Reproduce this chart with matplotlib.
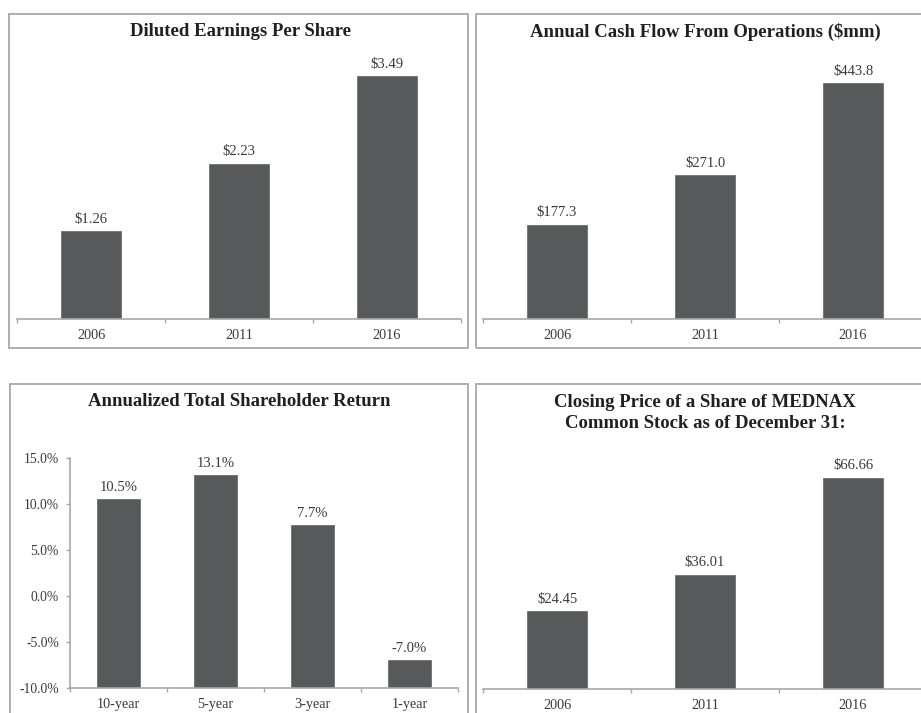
import matplotlib
matplotlib.use("Agg")
import matplotlib.pyplot as plt
from matplotlib.patches import Rectangle

plt.rcParams['font.family'] = ['Liberation Serif', 'DejaVu Serif']

# ---- data ----
years = ["2006", "2011", "2016"]
eps_values = [1.26, 2.23, 3.49]
eps_labels = ["$1.26", "$2.23", "$3.49"]
cash_values = [177.3, 271.0, 443.8]
cash_labels = ["$177.3", "$271.0", "$443.8"]
tsr_periods = ["10-year", "5-year", "3-year", "1-year"]
tsr_values = [10.5, 13.1, 7.7, -7.0]
tsr_labels = ["10.5%", "13.1%", "7.7%", "-7.0%"]
tsr_ticks = [-10, -5, 0, 5, 10, 15]
tsr_ticklabels = ["-10.0%", "-5.0%", "0.0%", "5.0%", "10.0%", "15.0%"]
price_values = [24.45, 36.01, 66.66]
price_labels = ["$24.45", "$36.01", "$66.66"]

titles = ["Diluted Earnings Per Share",
          "Annual Cash Flow From Operations ($mm)",
          "Annualized Total Shareholder Return",
          "Closing Price of a Share of MEDNAX\nCommon Stock as of December 31:"]

W, H = 921, 713
fig = plt.figure(figsize=(W / 100, H / 100), dpi=100)

BAR = '#58595b'
TXT = '#3a3a3a'
TITLE = '#231f20'
LINE = '#a8a8a8'

def px_rect(x0, y0, x1, y1):
    # pixel box (top-left origin) -> figure fraction [l, b, w, h]
    return [x0 / W, 1 - y1 / H, (x1 - x0) / W, (y1 - y0) / H]

# panel borders
for (x0, y0, x1, y1) in [(9, 14, 468, 348), (476, 14, 930, 348),
                         (10, 384, 468, 730), (476, 384, 930, 730)]:
    l, b, w, h = px_rect(x0, y0, x1, y1)
    fig.patches.append(Rectangle((l, b), w, h, transform=fig.transFigure,
                                 fill=False, edgecolor=LINE, lw=1.3))

def style_cat_axis(ax, labels, left_spine=False):
    n = len(labels)
    ax.set_xlim(-0.5, n - 0.5)
    for s in ['top', 'right']:
        ax.spines[s].set_visible(False)
    ax.spines['left'].set_visible(left_spine)
    ax.spines['bottom'].set_color(LINE)
    ax.spines['bottom'].set_linewidth(1.2)
    ax.spines['left'].set_color(LINE)
    ax.spines['left'].set_linewidth(1.2)
    ax.set_xticks(range(n))
    ax.set_xticklabels(labels, fontsize=10.3, color=TXT)
    ax.tick_params(axis='x', which='major', length=0, pad=7)
    ax.set_xticks([i - 0.5 for i in range(n + 1)], minor=True)
    ax.tick_params(axis='x', which='minor', length=3, color=LINE, width=1)
    ax.set_facecolor('none')

def bar_panel(rect, values, labels, ymax, cats, width=0.4):
    ax = fig.add_axes(px_rect(*rect))
    xs = list(range(len(values)))
    ax.bar(xs, values, width=width, color=BAR, edgecolor='#6e6f71', linewidth=0.6)
    ax.set_ylim(0, ymax)
    ax.set_yticks([])
    style_cat_axis(ax, cats)
    for x, v, t in zip(xs, values, labels):
        ax.annotate(t, (x, v), xytext=(0, 4), textcoords='offset points',
                    ha='center', va='bottom', fontsize=10.5, color=TXT)
    return ax

# Panel 1: EPS
bar_panel((17, 41, 461, 319), eps_values, eps_labels, 4.0, years)
# Panel 2: cash flow
bar_panel((483, 41, 927, 319), cash_values, cash_labels, 278 / 0.531, years)
# Panel 4: closing price
bar_panel((483, 445, 927, 689), price_values, price_labels, 244 / 3.17, years)

# Panel 3: TSR, bars from -10 baseline
ax3 = fig.add_axes(px_rect(70, 458, 458, 688))
base = tsr_ticks[0]
xs = list(range(len(tsr_values)))
ax3.bar(xs, [v - base for v in tsr_values], bottom=base, width=0.45,
        color=BAR, edgecolor='#6e6f71', linewidth=0.6)
ax3.set_ylim(tsr_ticks[0], tsr_ticks[-1])
style_cat_axis(ax3, tsr_periods, left_spine=True)
ax3.set_yticks(tsr_ticks)
ax3.set_yticklabels(tsr_ticklabels, fontsize=9.8, color=TXT)
ax3.tick_params(axis='y', length=3, color=LINE, width=1, pad=5)
for x, v, t in zip(xs, tsr_values, tsr_labels):
    ax3.annotate(t, (x, v), xytext=(0, 4), textcoords='offset points',
                 ha='center', va='bottom', fontsize=10.5, color=TXT)

# Titles
TFS = 13.5
fig.text(240 / W, 1 - 32 / H, titles[0], ha='center', va='center',
         fontsize=TFS, fontweight='bold', color=TITLE)
fig.text(705 / W, 1 - 32 / H, titles[1], ha='center', va='center',
         fontsize=TFS, fontweight='bold', color=TITLE)
fig.text(239 / W, 1 - 401 / H, titles[2], ha='center', va='center',
         fontsize=TFS, fontweight='bold', color=TITLE)
fig.text(705 / W, 1 - 413 / H, titles[3], ha='center', va='center',
         fontsize=TFS, fontweight='bold', color=TITLE, linespacing=1.25)

fig.savefig("out.png", dpi=100)
